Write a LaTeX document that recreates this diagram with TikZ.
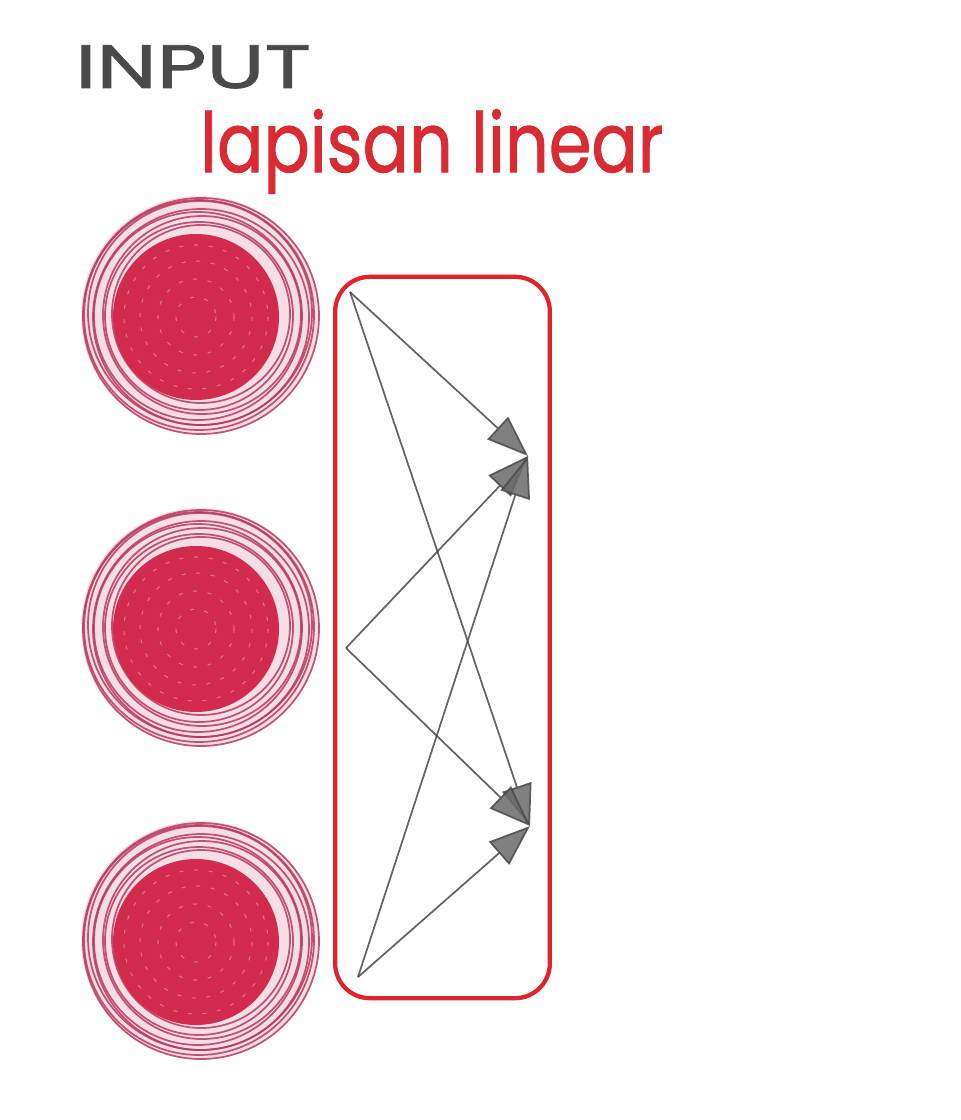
\documentclass[tikz,border=0pt]{standalone}
\usepackage{fontspec}
\setmainfont{Poppins}
\newfontfamily\handfont{Poppins}[FakeBold=1.3]
\usetikzlibrary{arrows.meta}
\definecolor{boxred}{HTML}{E0242C}
\definecolor{txtred}{HTML}{D92B33}
\definecolor{txtgray}{HTML}{4A4A4A}
\definecolor{disc}{HTML}{D32B4D}
\definecolor{ringc}{HTML}{B83A5E}
\definecolor{ringpink}{HTML}{F6DEE4}
\definecolor{wire}{HTML}{4A4A4A}
\definecolor{headgray}{HTML}{6A6A6A}
\tikzset{
  neuron/.style={circle, minimum size=177pt, inner sep=0pt},
  ringline/.style={draw=ringc, line width=1.3pt, opacity=0.85},
  layerbox/.style={draw=boxred, line width=3.2pt, rounded corners=26pt, minimum width=161pt, minimum height=541pt, inner sep=0pt},
  wirearrow/.style={draw=wire, line width=1.3pt, opacity=0.85, -{Triangle[length=31pt,width=23pt,fill=headgray]}},
  lbl/.style={anchor=base west, inner sep=0pt}
}
\begin{document}
\begin{tikzpicture}[x=0.75pt,y=-0.75pt]
\useasboundingbox (0,0) rectangle (960,1120);
\fill[white] (0,0) rectangle (960,1120);

\node[lbl, text=txtgray, font=\handfont\fontsize{46}{50}\selectfont, xscale=1.4] (inp) at (75,88) {INPUT};
\node[lbl, text=txtred, font=\handfont\fontsize{62}{66}\selectfont, xscale=0.83] (lin) at (200,172) {lapisan linear};

\foreach \n/\cy in {1/315,2/627,3/940}{
  \node[neuron] (in\n) at (200,\cy) {};
  \fill[ringpink] (in\n.center) circle[radius=119];
  \foreach \r/\dx/\dy in {89/1/-1, 94/-1/1, 99/2/0, 104/-2/1, 108/1/2, 112/0/-2, 115/-1/0, 118/1/1}
    \draw[ringline] ([shift={(\dx,\dy)}]in\n.center) circle[radius=\r];
  \fill[disc] ([shift={(-4,2)}]in\n.center) circle[radius=83];
  \foreach \r in {20,38,56,72}
    \draw[white, opacity=0.35, line width=0.8pt, dash pattern=on 3pt off 8pt] ([shift={(-4,2)}]in\n.center) circle[radius=\r];
}

\node[layerbox] (box) at (442.5,637.5) {};

\coordinate (s1) at (350,292);
\coordinate (s2) at (346,648);
\coordinate (s3) at (358,977);
\coordinate (t1) at (528,456);
\coordinate (t2) at (530,826);

\foreach \s in {s1,s2,s3}{
  \draw[wirearrow] (\s) -- (t1);
  \draw[wirearrow] (\s) -- (t2);
}
\end{tikzpicture}
\end{document}
